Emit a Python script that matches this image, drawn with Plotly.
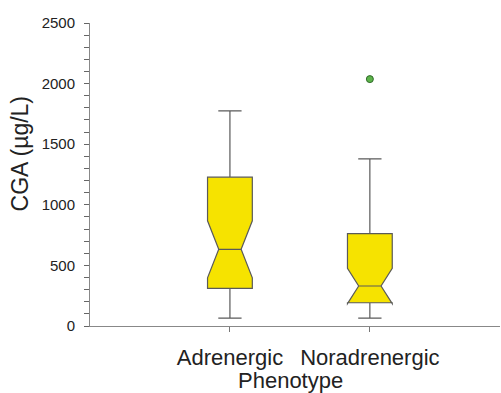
import plotly.graph_objects as go

categories = ["Adrenergic", "Noradrenergic"]
positions = [0, 1]
lower_whisker = [65, 65]
q1 = [310, 192]
median = [633, 330]
q3 = [1228, 762]
upper_whisker = [1775, 1379]
notch_span = [235, 145]
outlier_cat = [1]
outlier_val = [2037]
y_ticks = [0, 500, 1000, 1500, 2000, 2500]

FILL = "#F6E300"
LINE = "#5a5a5a"
FONT = "Arial, Liberation Sans, sans-serif"

fig = go.Figure()
for i in range(len(categories)):
    fig.add_trace(go.Box(
        x=[positions[i]],
        q1=[q1[i]], median=[median[i]], q3=[q3[i]],
        lowerfence=[lower_whisker[i]], upperfence=[upper_whisker[i]],
        notchspan=[notch_span[i]],
        notched=True, notchwidth=0.25,
        width=0.32, whiskerwidth=0.52,
        fillcolor=FILL,
        line=dict(color=LINE, width=1.2),
        boxpoints=False,
        showlegend=False,
        hoverinfo="skip",
    ))

fig.add_trace(go.Scatter(
    x=outlier_cat, y=outlier_val, mode="markers",
    marker=dict(size=7, color="#5DB44A", line=dict(color="#2F6A2A", width=1)),
    showlegend=False, hoverinfo="skip",
))

fig.update_layout(
    width=501, height=393,
    margin=dict(l=90, r=1, t=23, b=67),
    paper_bgcolor="white", plot_bgcolor="white",
    font=dict(family=FONT, color="#222"),
    xaxis=dict(
        range=[-1.0, 1.93],
        tickvals=positions, ticktext=categories,
        ticks="outside", ticklen=5, tickcolor="#777", tickwidth=1,
        showline=True, linecolor="#888", linewidth=1,
        showgrid=False, zeroline=False,
        tickfont=dict(size=22, family=FONT, color="#222"),
        ticklabelstandoff=7,
    ),
    yaxis=dict(
        range=[0, 2500],
        tickvals=y_ticks,
        ticks="outside", ticklen=5, tickcolor="#666", tickwidth=1,
        minor=dict(dtick=100, ticks="outside", ticklen=5, tickcolor="#666", tickwidth=1, showgrid=False),
        showline=True, linecolor="#888", linewidth=1,
        showgrid=False, zeroline=False,
        tickfont=dict(size=15, family=FONT, color="#222"),
        ticklabelstandoff=6,
    ),
    annotations=[
        dict(text="CGA (µg/L)", textangle=-90, xref="paper", yref="paper",
             x=-0.171, y=0.569, xanchor="center", yanchor="middle",
             showarrow=False, font=dict(size=23, family=FONT, color="#222")),
        dict(text="Phenotype", xref="paper", yref="paper",
             x=0.488, y=-0.1815, xanchor="center", yanchor="middle",
             showarrow=False, font=dict(size=22, family=FONT, color="#222")),
    ],
)

fig.write_html("out.html", config={"displayModeBar": False},
               post_script="document.body.style.margin='0';document.body.style.overflow='hidden';")
